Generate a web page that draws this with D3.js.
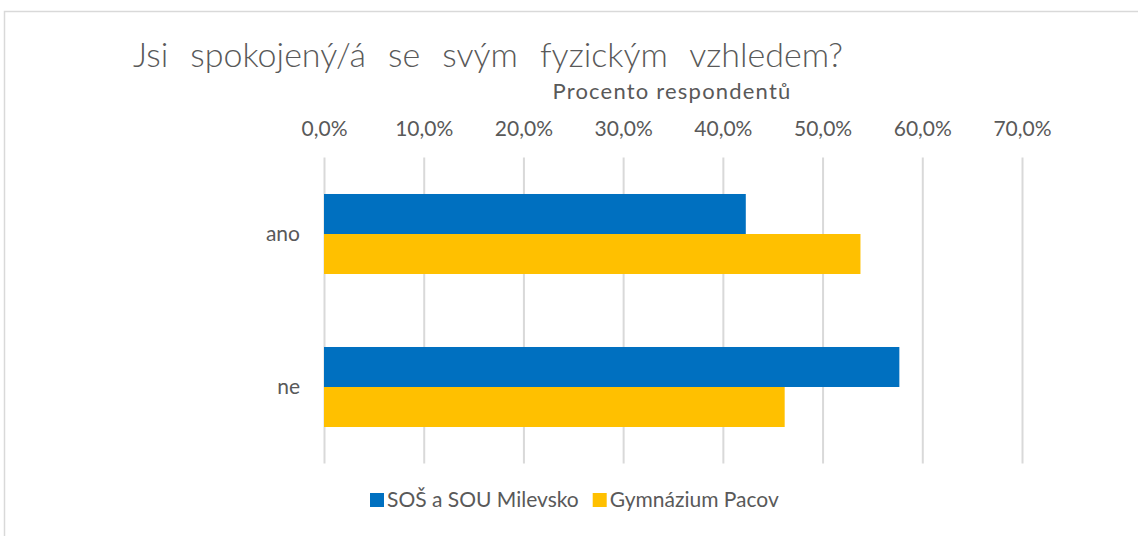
<!DOCTYPE html>
<html>
<head>
<meta charset="utf-8">
<script src="https://cdn.jsdelivr.net/npm/d3@7"></script>
<style>
  body { margin: 0; background: #fff; }
  svg { display: block; }
</style>
</head>
<body>
<div id="chart"></div>
<script>
// data
const categories = ["ano", "ne"];
const seriesNames = ["SOŠ a SOU Milevsko", "Gymnázium Pacov"];
const milevsko = [0.423, 0.577];
const pacov = [0.538, 0.462];
const tickValues = [0, 0.1, 0.2, 0.3, 0.4, 0.5, 0.6, 0.7];
const colors = ["#0070C0", "#FFC000"];

var width = 1138, height = 536;
var font = "Lato, Carlito, Calibri, 'Open Sans', sans-serif";
var textColor = "#595959";
var gridColor = "#d9d9d9";

var plot = {left: 324, right: 1022, top: 157.5, bottom: 463.5};

var svg = d3.select("#chart")
  .append("svg")
  .attr("width", width)
  .attr("height", height);

// outer chart border
svg.append("rect")
  .attr("x", 4.5)
  .attr("y", 11.5)
  .attr("width", 1200)
  .attr("height", 600)
  .attr("fill", "#fff")
  .attr("stroke", gridColor)
  .attr("stroke-width", 1.5);

// title
var title = svg.append("text")
  .attr("x", 133)
  .attr("y", 67)
  .style("font-family", font)
  .style("font-weight", 300)
  .style("font-size", "34px")
  .attr("fill", textColor)
  .text("Jsi spokojený/á se svým fyzickým vzhledem?");
var natural = title.node().getComputedTextLength();
title.style("word-spacing", Math.max(0, (710 - natural) / 5) + "px");

// axis title
svg.append("text")
  .attr("x", 672)
  .attr("y", 99)
  .attr("text-anchor", "middle")
  .style("font-family", font)
  .style("font-size", "22px")
  .style("letter-spacing", "1.2px")
  .attr("fill", textColor)
  .text("Procento respondentů");

var czLocale = d3.formatLocale({decimal: ",", thousands: " ", grouping: [3], currency: ["", " Kč"]});
var pct = czLocale.format(".1%");

// X scale
var x = d3.scaleLinear()
  .domain([0, 0.7])
  .range([plot.left, plot.right]);

var xAxis = svg.append("g")
  .attr("transform", "translate(0," + plot.top + ")")
  .call(d3.axisTop(x)
    .tickValues(tickValues)
    .tickFormat(pct)
    .tickSizeInner(-(plot.bottom - plot.top))
    .tickSizeOuter(0)
    .tickPadding(22));
xAxis.select(".domain").remove();
xAxis.selectAll("line")
  .attr("stroke", gridColor)
  .attr("stroke-width", 2);
xAxis.selectAll("text")
  .style("font-family", font)
  .style("font-size", "21px")
  .attr("fill", textColor);

// Y scale
var y = d3.scaleBand()
  .domain(categories)
  .range([plot.top, plot.bottom])
  .paddingInner(0.477)
  .paddingOuter(0.2385);

var ySub = d3.scaleBand()
  .domain(seriesNames)
  .range([0, y.bandwidth()]);

var yAxis = svg.append("g")
  .attr("transform", "translate(" + plot.left + ",0)")
  .call(d3.axisLeft(y).tickSize(0).tickPadding(24));
yAxis.select(".domain").remove();
yAxis.selectAll("text")
  .style("font-family", font)
  .style("font-size", "21px")
  .attr("fill", textColor);

// bars
var rows = [];
for (let i = 0; i < categories.length; i++) {
  rows.push({cat: categories[i], series: seriesNames[0], value: milevsko[i], color: colors[0]});
  rows.push({cat: categories[i], series: seriesNames[1], value: pacov[i], color: colors[1]});
}

svg.selectAll("bars")
  .data(rows)
  .enter()
  .append("rect")
  .attr("x", x(0))
  .attr("y", d => y(d.cat) + ySub(d.series))
  .attr("width", d => x(d.value) - x(0))
  .attr("height", ySub.bandwidth())
  .attr("fill", d => d.color);

// legend
var legend = svg.append("g")
  .attr("transform", "translate(370,493)");
var lx = 0;
seriesNames.forEach(function(name, i) {
  legend.append("rect")
    .attr("x", lx)
    .attr("y", 0)
    .attr("width", 14)
    .attr("height", 14)
    .attr("fill", colors[i]);
  var t = legend.append("text")
    .attr("x", lx + 17)
    .attr("y", 14)
    .style("font-family", font)
    .style("font-size", "21px")
    .attr("fill", textColor)
    .text(name);
  lx += 17 + t.node().getComputedTextLength() + 14;
});
</script>
</body>
</html>
